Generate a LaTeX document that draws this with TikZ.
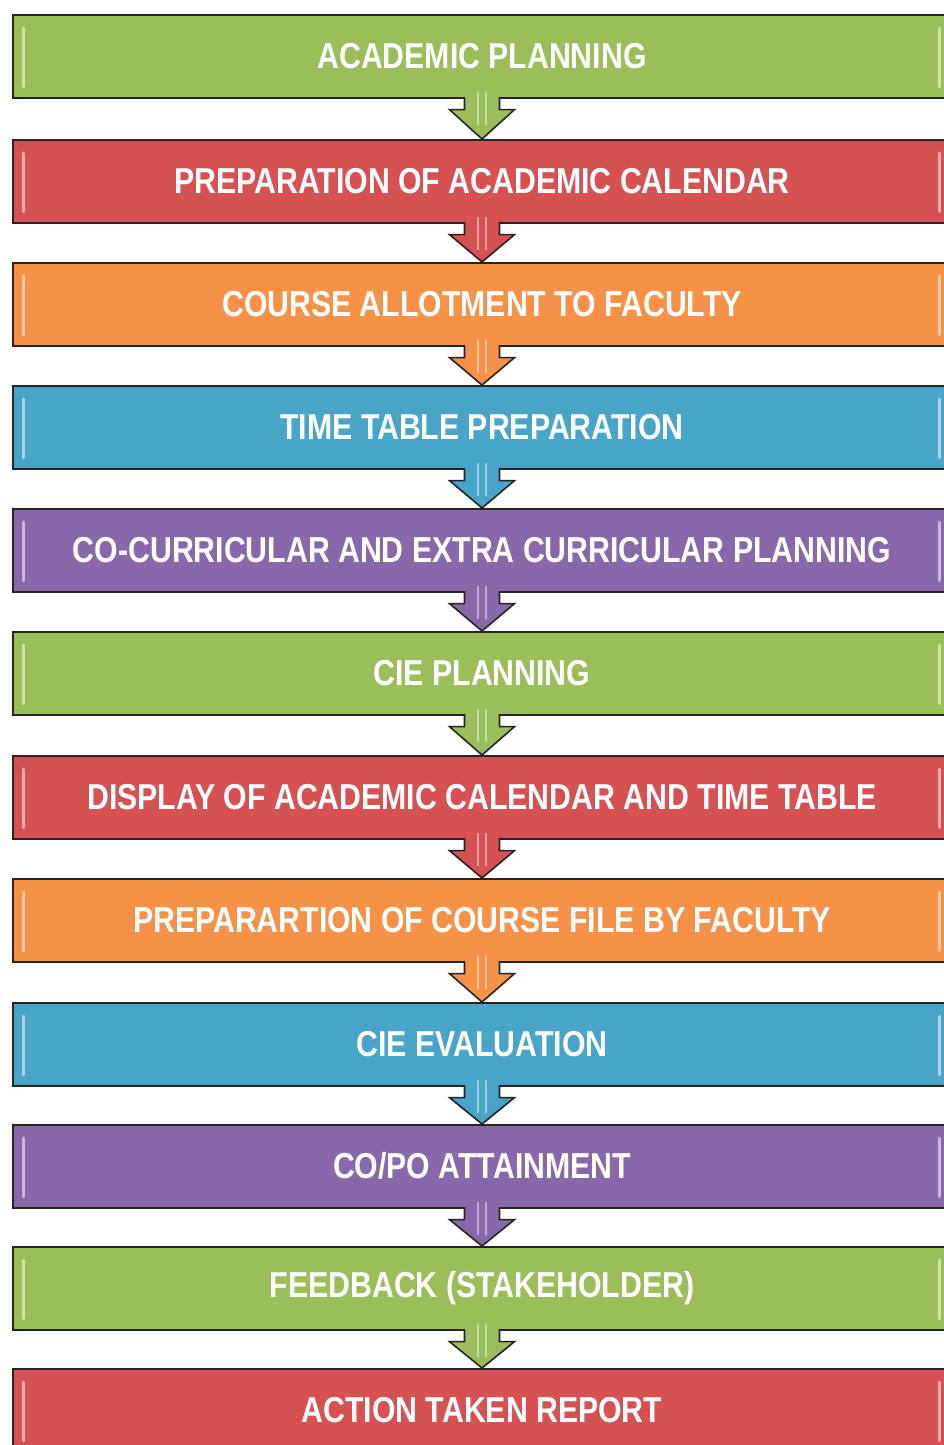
\documentclass[tikz,border=0pt]{standalone}
\usepackage{fontspec}
\setmainfont{Liberation Sans}[FakeStretch=0.84]
\usetikzlibrary{calc}
\definecolor{cgreen}{RGB}{156,190,90}
\definecolor{cred}{RGB}{214,82,82}
\definecolor{corange}{RGB}{246,145,72}
\definecolor{cblue}{RGB}{72,165,200}
\definecolor{cpurple}{RGB}{135,105,170}
\definecolor{edge}{RGB}{40,35,35}
\tikzset{
  stagebox/.style={draw=edge, line width=1.6pt, fill=#1, minimum width=938pt,
    minimum height=83pt, inner sep=0pt, anchor=north, text=white,
    font=\bfseries\fontsize{36}{40}\selectfont},
  flowarrow/.style={fill=#1, draw=edge, line width=1.6pt, line join=miter},
  hl/.style={white, opacity=0.55, line width=3pt, line cap=round},
  shafthl/.style={white, opacity=0.45, line width=1.5pt, line cap=round},
}
\begin{document}
\begin{tikzpicture}[x=1pt,y=-1pt]
\useasboundingbox (0,0) rectangle (944,1445);
\fill[white] (0,0) rectangle (944,1445);
\clip (0,0) rectangle (944,1445);
\node[stagebox=cgreen]  (b1)  at (482,14)   {ACADEMIC PLANNING};
\node[stagebox=cred]    (b2)  at (482,139)  {PREPARATION OF ACADEMIC CALENDAR};
\node[stagebox=corange] (b3)  at (482,262)  {COURSE ALLOTMENT TO FACULTY};
\node[stagebox=cblue]   (b4)  at (482,385)  {TIME TABLE PREPARATION};
\node[stagebox=cpurple] (b5)  at (482,508)  {CO-CURRICULAR AND EXTRA CURRICULAR PLANNING};
\node[stagebox=cgreen]  (b6)  at (482,631)  {CIE PLANNING};
\node[stagebox=cred]    (b7)  at (482,755)  {DISPLAY OF ACADEMIC CALENDAR AND TIME TABLE};
\node[stagebox=corange] (b8)  at (482,878)  {PREPARARTION OF COURSE FILE BY FACULTY};
\node[stagebox=cblue]   (b9)  at (482,1002) {CIE EVALUATION};
\node[stagebox=cpurple] (b10) at (482,1124) {CO/PO ATTAINMENT};
\node[stagebox=cgreen]  (b11) at (482,1246) {FEEDBACK (STAKEHOLDER)};
\node[stagebox=cred]    (b12) at (482,1368) {ACTION TAKEN REPORT};
\foreach \i in {1,...,12}{
  \draw[hl] ($(b\i.north west)+(11,14)$) -- ($(b\i.south west)+(11,-12)$);
  \draw[hl] ($(b\i.north west)+(927,14)$) -- ($(b\i.south west)+(927,-12)$);
}
\foreach \i/\j/\c in {1/2/cgreen,2/3/cred,3/4/corange,4/5/cblue,5/6/cpurple,6/7/cgreen,7/8/cred,8/9/corange,9/10/cblue,10/11/cpurple,11/12/cgreen}{
  \filldraw[flowarrow=\c] ($(b\i.south)+(-17.5,-1.5)$) -- ++(0,12.5) -- ++(-15,0)
    -- (b\j.north) -- ($(b\i.south)+(32.5,11)$) -- ++(-15,0) -- ++(0,-12.5);
  \draw[shafthl] ($(b\i.south)+(-4,-6)$) -- ($(b\i.south)+(-4,26)$);
  \draw[shafthl] ($(b\i.south)+(4,-6)$) -- ($(b\i.south)+(4,26)$);
}
\end{tikzpicture}
\end{document}
